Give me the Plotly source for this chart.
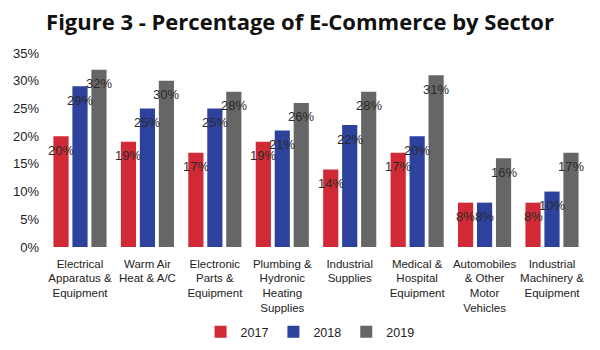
import plotly.graph_objects as go

categories = [
    "Electrical<br>Apparatus &<br>Equipment",
    "Warm Air<br>Heat & A/C",
    "Electronic<br>Parts &<br>Equipment",
    "Plumbing &<br>Hydronic<br>Heating<br>Supplies",
    "Industrial<br>Supplies",
    "Medical &<br>Hospital<br>Equipment",
    "Automobiles<br>& Other<br>Motor<br>Vehicles",
    "Industrial<br>Machinery &<br>Equipment",
]
years = ["2017", "2018", "2019"]
values_2017 = [20, 19, 17, 19, 14, 17, 8, 8]
values_2018 = [29, 25, 25, 21, 22, 20, 8, 10]
values_2019 = [32, 30, 28, 26, 28, 31, 16, 17]
colors = ["#D12A36", "#2D429C", "#666666"]
y_ticks = [0, 5, 10, 15, 20, 25, 30, 35]

series = [values_2017, values_2018, values_2019]

fig = go.Figure()
for name, vals, col in zip(years, series, colors):
    fig.add_trace(go.Bar(x=categories, y=vals, name=name, marker_color=col,
                         marker_line_width=0))

annotations = []
for i, vals in enumerate(series):
    for c, v in zip(categories, vals):
        annotations.append(dict(
            x=c, y=v, xref="x", yref="y", text=f"{v}%", showarrow=False,
            xshift=(i - 1) * 19, yshift=-14, yanchor="middle",
            font=dict(family="Liberation Sans, Arial", size=13, color="#2a2a2a"),
        ))

fig.update_layout(
    width=600, height=350,
    margin=dict(l=46, r=14, t=53, b=103),
    paper_bgcolor="white", plot_bgcolor="white",
    barmode="group", bargap=0.156, bargroupgap=0.2,
    title=dict(text="<b>Figure 3 - Percentage of E-Commerce by Sector</b>",
               x=0.5, xref="container", xanchor="center", y=0.935, yanchor="middle",
               font=dict(family="Open Sans", size=22, color="#111111")),
    annotations=annotations,
    legend=dict(orientation="h", x=0.489, xanchor="center",
                y=0.051, yref="container", yanchor="middle",
                font=dict(family="Liberation Sans, Arial", size=12.5, color="#222222"),
                traceorder="normal"),
    font=dict(family="Liberation Sans, Arial", color="#222222"),
)
fig.update_xaxes(showgrid=False, showline=False, zeroline=False, automargin=False,
                 tickfont=dict(size=11.5, color="#222222"), ticks="",
                 ticklabelstandoff=8)
fig.update_yaxes(range=[0, 35], tickvals=y_ticks, automargin=False,
                 ticktext=[f"{t}%" for t in y_ticks],
                 showgrid=False, zeroline=False, showline=False,
                 tickfont=dict(size=13, color="#222222"), ticklabelstandoff=6)

fig.write_html("out.html")
